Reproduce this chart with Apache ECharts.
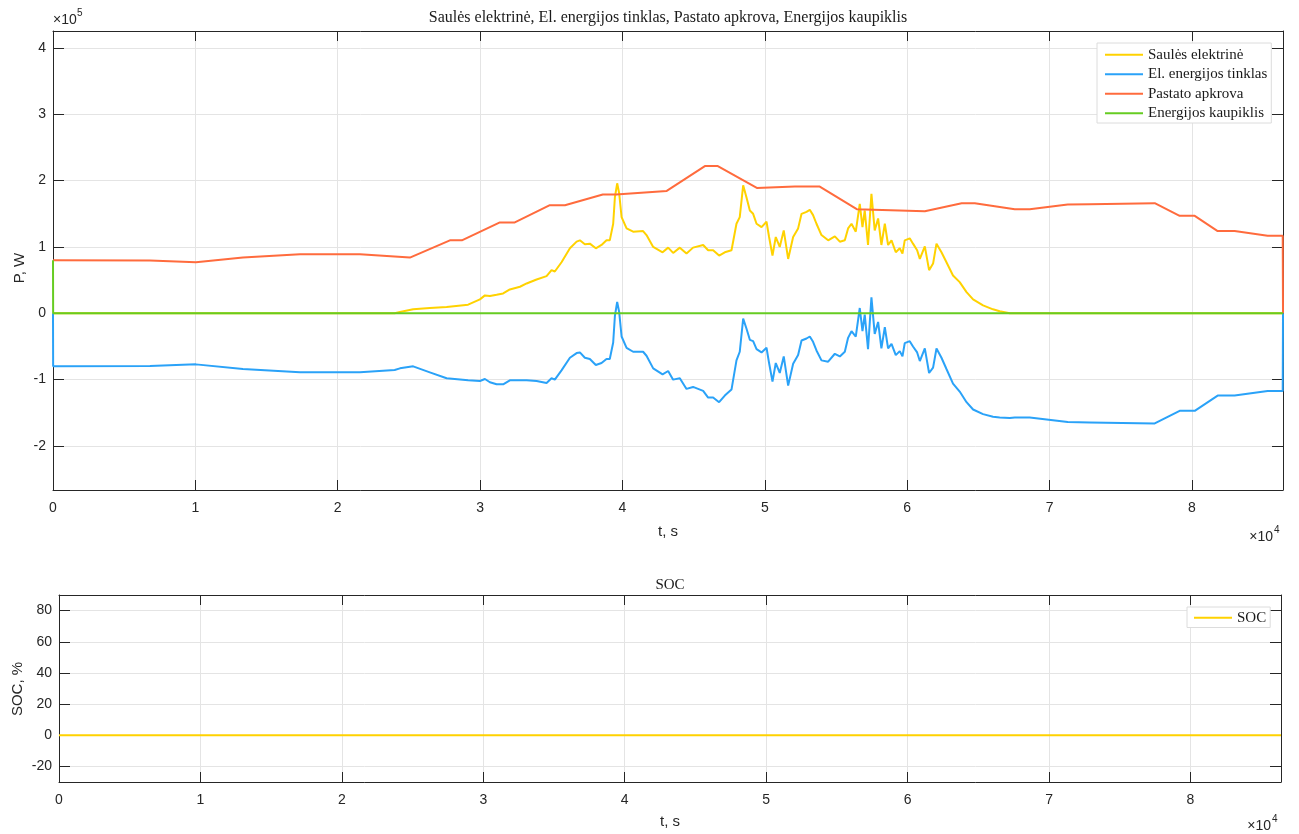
<!DOCTYPE html>
<html><head><meta charset="utf-8">
<script src="https://cdn.jsdelivr.net/npm/echarts@6/dist/echarts.min.js"></script>
<style>html,body{margin:0;padding:0;background:#fff}#c{width:1299px;height:834px}</style>
</head><body><div id="c"></div>
<script>
// ---- data (t in s, P in W) ----
const seriesNames = ['Saulės elektrinė', 'El. energijos tinklas', 'Pastato apkrova', 'Energijos kaupiklis'];
const socName = 'SOC';

const solarData = [[0,0],[24000,0],[24370,2000],[25300,6000],[26470,8000],[27650,9500],[29160,13000],[29990,21000],[30340,27000],[30690,26000],[31160,28000],[31620,30000],[32090,36000],[32800,40000],[33270,45000],[33970,51000],[34670,56000],[35020,65000],[35250,63000],[35720,77000],[36310,98000],[36780,108000],[37010,110000],[37360,104000],[37710,105000],[38130,98000],[38530,103000],[38880,110000],[39110,110000],[39350,135000],[39470,175000],[39630,196000],[39770,181000],[39940,145000],[40290,128000],[40750,123000],[41450,124000],[41690,118000],[42160,100000],[42820,92000],[43210,99000],[43560,91000],[44030,99000],[44500,90000],[44960,99000],[45670,103000],[46020,95000],[46370,95000],[46790,87000],[47190,92000],[47660,95000],[48010,135000],[48240,145000],[48480,193000],[48710,175000],[48950,155000],[49180,150000],[49420,135000],[49770,130000],[50120,138000],[50300,115000],[50540,87000],[50770,115000],[51050,100000],[51330,125000],[51640,82000],[51990,115000],[52340,128000],[52580,150000],[52930,153000],[53160,156000],[53390,148000],[53630,135000],[53980,118000],[54450,110000],[54920,116000],[55270,108000],[55620,110000],[55850,128000],[56090,135000],[56390,123000],[56670,165000],[56860,130000],[57020,155000],[57250,103000],[57490,180000],[57720,125000],[57960,143000],[58190,103000],[58430,135000],[58660,103000],[58900,110000],[59200,92000],[59480,98000],[59670,90000],[59830,110000],[60180,113000],[60410,105000],[60700,95000],[60890,82000],[61240,101000],[61540,65000],[61820,75000],[62060,105000],[62410,92000],[62760,77000],[63220,57000],[63690,47000],[64170,32000],[64630,21000],[65330,12000],[66030,6000],[66500,3000],[67210,0],[86400,0]];

const gridData = [[0,0],[10,-80000],[6810,-79500],[10040,-77000],[13340,-84000],[17350,-89000],[21560,-89000],[24000,-85500],[24370,-83000],[25300,-80000],[26470,-89000],[27650,-98000],[29160,-101000],[29990,-102000],[30340,-99000],[30690,-104000],[31160,-107000],[31620,-107000],[32090,-101000],[32800,-101000],[33270,-101000],[33970,-102000],[34670,-105000],[35020,-98000],[35250,-100000],[35720,-86000],[36310,-67000],[36780,-60000],[37010,-59000],[37360,-67000],[37710,-69000],[38130,-78000],[38530,-75000],[38880,-69000],[39110,-69000],[39350,-44000],[39470,-4000],[39630,17000],[39770,2000],[39940,-35000],[40290,-52000],[40750,-58000],[41450,-58000],[41690,-64000],[42160,-83000],[42820,-92000],[43210,-87000],[43560,-100000],[44030,-98000],[44500,-114000],[44960,-111000],[45670,-117000],[46020,-127000],[46370,-127000],[46790,-134000],[47190,-124000],[47660,-115000],[48010,-71000],[48240,-58000],[48480,-8000],[48710,-23000],[48950,-40000],[49180,-42000],[49420,-54000],[49770,-59000],[50120,-52000],[50300,-75000],[50540,-103000],[50770,-75000],[51050,-90000],[51330,-65000],[51640,-109000],[51990,-76000],[52340,-63000],[52580,-41000],[52930,-38000],[53160,-35000],[53390,-43000],[53630,-56000],[53980,-71000],[54450,-73000],[54920,-61000],[55270,-65000],[55620,-58000],[55850,-37000],[56090,-27000],[56390,-35000],[56670,8000],[56860,-27000],[57020,-2000],[57250,-54000],[57490,24000],[57720,-31000],[57960,-13000],[58190,-53000],[58430,-21000],[58660,-53000],[58900,-46000],[59200,-63000],[59480,-57000],[59670,-65000],[59830,-45000],[60180,-42000],[60410,-50000],[60700,-59000],[60890,-72000],[61240,-53000],[61540,-90000],[61820,-82000],[62060,-53000],[62410,-67000],[62760,-84000],[63220,-106000],[63690,-118000],[64170,-134000],[64630,-145000],[65330,-152000],[66030,-156000],[66500,-157000],[67210,-158000],[67560,-157000],[68610,-157000],[71280,-164000],[72820,-164500],[77390,-166000],[79140,-147000],[80200,-147000],[81810,-124000],[83000,-124000],[85320,-117000],[86380,-117000],[86400,0]];

const loadData = [[0,80000],[6810,79500],[10040,77000],[13340,84000],[17350,89000],[21560,89000],[25070,84000],[27880,110000],[28720,110000],[31390,137000],[32440,137000],[34900,163000],[35960,163000],[38620,179000],[39540,179000],[43110,184500],[45790,222000],[46700,222000],[49440,189000],[52110,191000],[53860,191000],[56460,157000],[61240,154000],[63830,166000],[64750,166000],[67560,157000],[68610,157000],[71280,164000],[72820,164500],[77390,166000],[79140,147000],[80200,147000],[81810,124000],[83000,124000],[85320,117000],[86380,117000],[86400,0]];

const storageData = [[0,80000],[10,0],[86400,0]];
const socData = [[0,0],[86400,0]];

const xScaleExp = 4;   // x tick labels shown as ×10^4
const yScaleExp = 5;   // y tick labels shown as ×10^5

// ---- styling ----
const colors = ['#FFD200', '#2AA2F8', '#FF6B3D', '#66CC22'];
const SANS = "'Liberation Sans', Arial, Helvetica, sans-serif";
const SERIF = "'Liberation Serif', 'Times New Roman', serif";
const AX = '#262626';
const GRIDC = '#e4e4e4';

function xAxes(gi) {
  return [
    {gridIndex: gi, type: 'value', min: 0, max: 86400, interval: 10000, position: 'bottom',
     axisLine: {show: true, onZero: false, lineStyle: {color: AX, width: 1}},
     axisTick: {show: true, inside: true, length: 10, lineStyle: {color: AX}},
     axisLabel: {color: AX, fontSize: 14, fontFamily: SANS, margin: 11, showMaxLabel: false,
       formatter: v => String(+(v / Math.pow(10, xScaleExp)).toFixed(4))},
     splitLine: {show: true, lineStyle: {color: GRIDC, width: 1}}},
    {gridIndex: gi, type: 'value', min: 0, max: 86400, interval: 10000, position: 'top',
     axisLine: {show: true, onZero: false, lineStyle: {color: AX, width: 1}},
     axisTick: {show: true, inside: true, length: 10, lineStyle: {color: AX}},
     axisLabel: {show: false}, splitLine: {show: false}}
  ];
}
function yAxes(gi, min, max, split, fmt, margin) {
  return [
    {gridIndex: gi, type: 'value', min: min, max: max, splitNumber: split, position: 'left',
     axisLine: {show: true, onZero: false, lineStyle: {color: AX, width: 1}},
     axisTick: {show: true, inside: true, length: 11, lineStyle: {color: AX}},
     axisLabel: {color: AX, fontSize: 14, fontFamily: SANS, margin: margin, showMinLabel: false, showMaxLabel: false, formatter: fmt},
     splitLine: {show: true, lineStyle: {color: GRIDC, width: 1}}},
    {gridIndex: gi, type: 'value', min: min, max: max, splitNumber: split, position: 'right',
     axisLine: {show: true, onZero: false, lineStyle: {color: AX, width: 1}},
     axisTick: {show: true, inside: true, length: 11, lineStyle: {color: AX}},
     axisLabel: {show: false}, splitLine: {show: false}}
  ];
}

function line(name, data, color, xi, yi, z) {
  return {name: name, type: 'line', data: data, xAxisIndex: xi, yAxisIndex: yi,
    showSymbol: false, symbol: 'none', z: z, silent: true,
    lineStyle: {color: color, width: 2}, itemStyle: {color: color}};
}

const chart = echarts.init(document.getElementById('c'), null, {renderer: 'canvas'});
const legendCommon = {orient: 'vertical', icon: 'rect', itemWidth: 38, itemHeight: 2, itemGap: 0,
  backgroundColor: '#fff', borderColor: '#dcdcdc', borderWidth: 1, selectedMode: false,
  textStyle: {fontFamily: SERIF, fontSize: 15, color: '#1a1a1a', lineHeight: 19.5}};

chart.setOption({
  animation: false,
  backgroundColor: '#fff',
  grid: [
    {left: 53, top: 31, right: 16, bottom: 344, containLabel: false},
    {left: 59, top: 595, right: 18, bottom: 52, containLabel: false}
  ],
  xAxis: xAxes(0).concat(xAxes(1)),
  yAxis: yAxes(0, -266400, 425600, 7, v => String(+(v / Math.pow(10, yScaleExp)).toFixed(4)), 7)
    .concat(yAxes(1, -30, 90, 6, v => String(v), 7)),
  legend: [
    Object.assign({}, legendCommon, {data: seriesNames, left: 1097, top: 43, padding: [2, 4, 0, 8]}),
    Object.assign({}, legendCommon, {data: [socName], left: 1187, top: 607, padding: [1, 4, 0, 7]})
  ],
  series: [
    line(seriesNames[0], solarData, colors[0], 0, 0, 2),
    line(seriesNames[1], gridData, colors[1], 0, 0, 3),
    line(seriesNames[2], loadData, colors[2], 0, 0, 4),
    line(seriesNames[3], storageData, colors[3], 0, 0, 5),
    line(socName, socData, colors[0], 2, 2, 2)
  ],
  graphic: [
    {type: 'text', x: 668, y: 18, style: {text: 'Saulės elektrinė, El. energijos tinklas, Pastato apkrova, Energijos kaupiklis', font: '16px ' + SERIF, fill: '#1a1a1a', align: 'center', verticalAlign: 'middle'}},
    {type: 'text', x: 670, y: 585, style: {text: 'SOC', font: '15px ' + SERIF, fill: '#1a1a1a', align: 'center', verticalAlign: 'middle'}},
    {type: 'text', x: 668, y: 532, style: {text: 't, s', font: '15px ' + SANS, fill: AX, align: 'center', verticalAlign: 'middle'}},
    {type: 'text', x: 670, y: 822, style: {text: 't, s', font: '15px ' + SANS, fill: AX, align: 'center', verticalAlign: 'middle'}},
    {type: 'text', x: 20, y: 268, rotation: Math.PI / 2, style: {text: 'P, W', font: '15px ' + SANS, fill: AX, align: 'center', verticalAlign: 'middle'}},
    {type: 'text', x: 18, y: 689, rotation: Math.PI / 2, style: {text: 'SOC, %', font: '15px ' + SANS, fill: AX, align: 'center', verticalAlign: 'middle'}},
    {type: 'text', x: 53, y: 20, style: {text: '×10', font: '14px ' + SANS, fill: AX, align: 'left', verticalAlign: 'middle'}},
    {type: 'text', x: 77, y: 13, style: {text: String(yScaleExp), font: '10px ' + SANS, fill: AX, align: 'left', verticalAlign: 'middle'}},
    {type: 'text', x: 1273, y: 537, style: {text: '×10', font: '14px ' + SANS, fill: AX, align: 'right', verticalAlign: 'middle'}},
    {type: 'text', x: 1274, y: 530, style: {text: String(xScaleExp), font: '10px ' + SANS, fill: AX, align: 'left', verticalAlign: 'middle'}},
    {type: 'text', x: 1271, y: 826, style: {text: '×10', font: '14px ' + SANS, fill: AX, align: 'right', verticalAlign: 'middle'}},
    {type: 'text', x: 1272, y: 819, style: {text: String(xScaleExp), font: '10px ' + SANS, fill: AX, align: 'left', verticalAlign: 'middle'}}
  ]
});
</script></body></html>
